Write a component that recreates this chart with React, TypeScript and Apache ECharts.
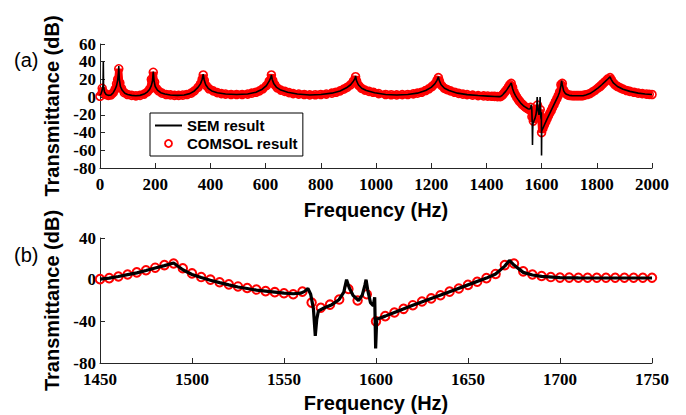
import React, { useEffect, useRef } from "react";
import * as echarts from "echarts";

type P = [number, number];

// ---- Panel (a): SEM result, 0–1450 Hz ----
const semLow: P[] = [
  [0, 2], [4, 4], [8, 8], [11, 14], [12, 40], [13, 12], [16, 6], [22, 3], [30, 2], [40, 2.5],
  [48, 5], [55, 9], [60, 13], [64, 19], [67, 28], [68, 35], [70, 20], [74, 12], [80, 8], [90, 4.5],
  [100, 3], [115, 2], [130, 1.5], [145, 2], [160, 3.5], [172, 6], [180, 9], [186, 13], [190, 18], [193, 29],
  [196, 18], [200, 12], [208, 8], [220, 5], [235, 3.5], [255, 2.5], [280, 2], [305, 2.5], [325, 4], [342, 7],
  [355, 11], [364, 15], [370, 20], [374, 26], [377, 20], [383, 14], [392, 10], [405, 7], [425, 5], [455, 3.5],
  [495, 3], [535, 3.5], [565, 5.5], [588, 9], [603, 13], [613, 18], [619, 22], [621, 25], [624, 20], [630, 15],
  [640, 11], [655, 8], [680, 5.5], [715, 3.5], [760, 2.5], [800, 3], [840, 4.5], [870, 7], [893, 10.5], [908, 14],
  [918, 18], [924, 21], [926, 24], [929, 19], [936, 14], [948, 10], [965, 7.5], [995, 5], [1035, 3], [1075, 2.5],
  [1115, 3], [1150, 4.5], [1180, 7.5], [1200, 11], [1213, 15], [1221, 19], [1226, 23], [1229, 19], [1236, 14], [1248, 10],
  [1265, 7.5], [1295, 4.5], [1330, 2.8], [1370, 1.8], [1405, 1.2], [1430, 0.8], [1445, 0.6],
];

// ---- SEM result, 1450–1750 Hz (panel b, also used in panel a) ----
const semMid: P[] = [
  [1450, 0.6], [1455, 1.5], [1460, 3], [1465, 4.8], [1470, 6.5], [1475, 8.8], [1480, 11.2], [1485, 13.5], [1490, 16],
  [1495, 9.5], [1500, 5], [1505, 2], [1510, -0.5], [1515, -2.8], [1520, -5], [1525, -7], [1530, -8.5], [1535, -10],
  [1540, -11], [1545, -12], [1550, -13], [1555, -13.5], [1559, -13], [1561, -11.5], [1563, -8.5], [1564.5, -14],
  [1566, -28], [1567, -54], [1567.8, -38], [1568.7, -30], [1572, -27], [1576, -24], [1580, -19], [1582.5, -12],
  [1584, 0], [1585.5, -8], [1587.5, -15], [1590.5, -20], [1592.5, -15], [1594, -5], [1594.6, 0], [1595.5, -10],
  [1597, -22], [1598.5, -25], [1599.3, -17], [1599.8, -66], [1600.4, -38], [1605, -35], [1610, -31.5], [1620, -24.5],
  [1630, -18], [1640, -11.5], [1650, -5], [1660, 1.5], [1665, 5.5], [1670, 13], [1672.5, 18.5], [1675, 14],
  [1680, 7], [1685, 4.5], [1690, 3.2], [1700, 2], [1710, 1.7], [1720, 1.6], [1735, 1.6], [1750, 1.6],
];

// ---- SEM result, 1750–2000 Hz ----
const semHigh: P[] = [
  [1760, 2.5], [1775, 4], [1790, 7], [1805, 10.5], [1818, 14], [1830, 17.5], [1840, 20.5], [1848, 23],
  [1852, 20], [1860, 16], [1875, 12], [1895, 9], [1920, 6.5], [1950, 4.5], [1975, 3.5], [2000, 3],
];

// ---- COMSOL result, 0–1450 Hz ----
const comsolLow: P[] = [
  [0, 1], [8, 10], [15, 5], [22, 3], [30, 2], [40, 2.5], [48, 5], [55, 9], [60, 15], [64, 20],
  [68, 32], [72, 16], [78, 10], [88, 5], [100, 3], [115, 2], [130, 1.5], [145, 2], [160, 3.5], [172, 6],
  [180, 9], [186, 20], [193, 28], [198, 17], [204, 10], [212, 7], [225, 4.5], [240, 3], [255, 2.5], [270, 2],
  [285, 2], [300, 2.3], [315, 3], [330, 4.5], [342, 7], [355, 11], [364, 15], [370, 20], [374, 25], [378, 19],
  [385, 13], [395, 9.5], [410, 7], [425, 5], [440, 4], [455, 3.5], [475, 3], [495, 3], [515, 3], [535, 3.5],
  [550, 4.5], [565, 5.5], [578, 7], [590, 9.5], [603, 13], [613, 18], [621, 25], [626, 19], [633, 14], [642, 10.5],
  [655, 8], [670, 6.5], [685, 5], [700, 4], [720, 3.5], [740, 3], [760, 2.5], [780, 2.7], [800, 3], [820, 3.5],
  [840, 4.5], [855, 5.5], [870, 7], [883, 9], [895, 11], [908, 14], [918, 18], [926, 23], [930, 18], [938, 13],
  [948, 10], [960, 8], [975, 6.5], [990, 5.5], [1010, 4], [1035, 3], [1055, 2.7], [1075, 2.5], [1095, 2.8], [1115, 3],
  [1135, 3.7], [1150, 4.5], [1165, 5.5], [1180, 7.5], [1192, 9.5], [1203, 12], [1213, 15], [1221, 19], [1226, 22], [1230, 18],
  [1238, 13], [1248, 10], [1258, 8.5], [1270, 7], [1285, 5.5], [1300, 4.2], [1315, 3.4], [1330, 2.8], [1350, 2.2], [1370, 1.8],
  [1390, 1.4], [1405, 1.2], [1420, 1], [1430, 0.8], [1440, 0.6],
];

// ---- COMSOL result, 1450–1750 Hz ----
const comsolMid: P[] = [
  [1450, 0.5], [1455, 1.5], [1460, 3], [1465, 5], [1470, 7], [1475, 9], [1480, 11.5], [1485, 14], [1490, 15.5],
  [1495, 11], [1500, 6], [1505, 2.5], [1510, 0], [1515, -2.5], [1520, -4.5], [1525, -6.5], [1530, -8], [1535, -9.5],
  [1540, -11], [1545, -12], [1550, -13], [1555, -14], [1560, -11.5], [1565, -22], [1570, -27], [1575, -24], [1580, -19],
  [1585, -9], [1590, -20], [1595, -14], [1600, -40], [1605, -35], [1610, -31.5], [1615, -28], [1620, -24.5], [1625, -21],
  [1630, -18], [1635, -15], [1640, -11.5], [1645, -8.5], [1650, -5], [1655, -2], [1660, 1.5], [1665, 5.5], [1670, 14],
  [1675, 15.5], [1680, 8], [1685, 5], [1690, 3.5], [1695, 2.5], [1700, 2], [1705, 2], [1710, 1.8], [1715, 1.8],
  [1720, 1.8], [1725, 1.8], [1730, 1.8], [1735, 1.8], [1740, 1.8], [1745, 1.8], [1750, 1.8],
];

// ---- COMSOL result, 1750–2000 Hz ----
const comsolHigh: P[] = [
  [1755, 2.2], [1765, 3], [1775, 4], [1785, 6], [1795, 8], [1805, 10.5], [1812, 12], [1818, 14], [1825, 16],
  [1832, 18], [1840, 20.5], [1848, 22], [1853, 19.5], [1860, 16], [1868, 13.5], [1875, 12], [1885, 10.5],
  [1895, 9], [1908, 7.5], [1920, 6.5], [1935, 5.5], [1950, 4.5], [1965, 4], [1980, 3.5], [1990, 3.2], [2000, 3],
];

// axis ranges / tick steps
const topX = { min: 0, max: 2000, step: 200 };
const topY = { min: -80, max: 60, step: 20 };
const botX = { min: 1450, max: 1750, step: 50 };
const botY = { min: -80, max: 40, step: 40 };

const panelLabels = ["(a)", "(b)"];
const seriesNames = ["SEM result", "COMSOL result"];
const xTitle = "Frequency (Hz)";
const yTitle = "Transmittance (dB)";

const RED = "#ff0000";
const AXIS = "#262626";
const SERIF = "Liberation Serif";
const SANS = "Liberation Sans";

function makeXAxis(gridIndex: number, r: { min: number; max: number; step: number }, gap: number) {
  return {
    type: "value",
    gridIndex,
    min: r.min,
    max: r.max,
    interval: r.step,
    name: xTitle,
    nameLocation: "middle",
    nameGap: gap,
    nameTextStyle: { fontFamily: SANS, fontWeight: "bold", fontSize: 20, color: "#000" },
    axisLine: { show: true, onZero: false, lineStyle: { color: AXIS, width: 1 } },
    axisTick: { show: true, inside: true, length: 5, lineStyle: { color: AXIS } },
    axisLabel: {
      margin: 8,
      fontFamily: SERIF,
      fontWeight: "bold",
      fontSize: 17,
      color: "#000",
      formatter: (v: number) => String(v),
    },
    splitLine: { show: false },
  };
}

function makeYAxis(gridIndex: number, r: { min: number; max: number; step: number }) {
  return {
    type: "value",
    gridIndex,
    min: r.min,
    max: r.max,
    interval: r.step,
    name: yTitle,
    nameLocation: "middle",
    nameRotate: 90,
    nameGap: 36,
    nameTextStyle: { fontFamily: SANS, fontWeight: "bold", fontSize: 20, color: "#000" },
    axisLine: { show: true, onZero: false, lineStyle: { color: AXIS, width: 1 } },
    axisTick: { show: true, inside: true, length: 5, lineStyle: { color: AXIS } },
    axisLabel: {
      margin: 4,
      fontFamily: SERIF,
      fontWeight: "bold",
      fontSize: 17,
      color: "#000",
      formatter: (v: number) => String(v),
    },
    splitLine: { show: false },
  };
}

export default function App() {
  const ref = useRef<HTMLDivElement>(null);

  useEffect(() => {
    document.body.style.margin = "0";
    const chart = echarts.init(ref.current!, null, { renderer: "svg" });

    const semTop = [...semLow, ...semMid, ...semHigh];
    const comsolTop = [...comsolLow, ...comsolMid, ...comsolHigh];

    const option: any = {
      animation: false,
      backgroundColor: "#fff",
      grid: [
        { left: 100, right: 34, top: 44, height: 124, outerBoundsMode: "none" },
        { left: 100, right: 34, top: 238, height: 125, outerBoundsMode: "none" },
      ],
      xAxis: [makeXAxis(0, topX, 32), makeXAxis(1, botX, 30)],
      yAxis: [makeYAxis(0, topY), makeYAxis(1, botY)],
      legend: {
        left: 150,
        top: 113,
        orient: "vertical",
        padding: [5, 5, 5, 5],
        itemGap: 3,
        itemWidth: 27,
        itemHeight: 7,
        borderColor: "#000",
        borderWidth: 1,
        backgroundColor: "#fff",
        selectedMode: false,
        textStyle: { fontFamily: SANS, fontWeight: "bold", fontSize: 15, color: "#000" },
        data: [
          { name: seriesNames[0], icon: "path://M0,0H27V2H0Z", itemStyle: { color: "#000" } },
          {
            name: seriesNames[1],
            icon: "circle",
            itemStyle: { color: "rgba(0,0,0,0)", borderColor: RED, borderWidth: 1.8, opacity: 1 },
          },
        ],
      },
      graphic: [
        { type: "text", left: 14, top: 50, style: { text: panelLabels[0], font: `20px ${SANS}`, fill: "#000" } },
        { type: "text", left: 14, top: 245, style: { text: panelLabels[1], font: `20px ${SANS}`, fill: "#000" } },
      ],
      series: [
        {
          name: "COMSOL band",
          type: "line",
          xAxisIndex: 0,
          yAxisIndex: 0,
          data: comsolTop,
          symbol: "none",
          lineStyle: { color: RED, width: 7 },
          silent: true,
          z: 1,
        },
        {
          name: seriesNames[1],
          type: "scatter",
          xAxisIndex: 0,
          yAxisIndex: 0,
          data: comsolTop,
          symbol: "circle",
          symbolSize: 8,
          itemStyle: { color: "rgba(0,0,0,0)", borderColor: RED, borderWidth: 1.6, opacity: 1 },
          z: 2,
        },
        {
          name: seriesNames[0],
          type: "line",
          xAxisIndex: 0,
          yAxisIndex: 0,
          data: semTop,
          symbol: "none",
          color: "#000",
          lineStyle: { color: "#000", width: 1.6 },
          z: 3,
        },
        {
          name: seriesNames[1],
          type: "scatter",
          xAxisIndex: 1,
          yAxisIndex: 1,
          data: comsolMid,
          symbol: "circle",
          symbolSize: 8.5,
          itemStyle: { color: "rgba(0,0,0,0)", borderColor: RED, borderWidth: 2, opacity: 1 },
          z: 2,
        },
        {
          name: seriesNames[0],
          type: "line",
          xAxisIndex: 1,
          yAxisIndex: 1,
          data: semMid,
          symbol: "none",
          color: "#000",
          lineStyle: { color: "#000", width: 3.2 },
          z: 3,
        },
      ],
    };

    chart.setOption(option);
    return () => chart.dispose();
  }, []);

  return <div ref={ref} style={{ width: 686, height: 415 }} />;
}
